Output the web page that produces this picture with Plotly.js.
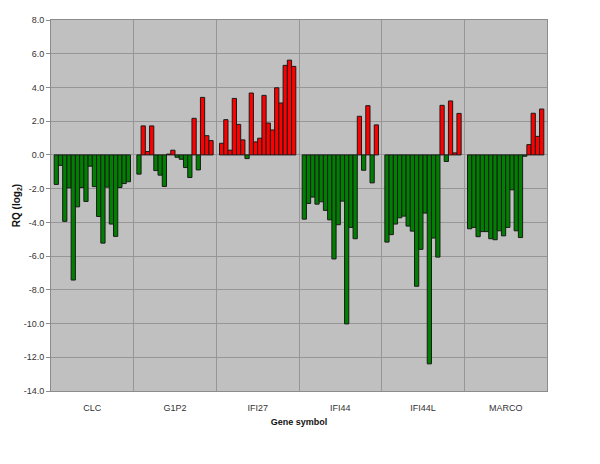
<!DOCTYPE html>
<html>
<head>
<meta charset="utf-8">
<script src="https://cdn.plot.ly/plotly-3.0.1.min.js"></script>
<style>
  body { margin: 0; background: #fff; }
  #chart { width: 600px; height: 464px; }
</style>
</head>
<body>
<div id="chart"></div>
<script>
// genes on the x axis, 18 samples per gene
const genes = ['CLC', 'G1P2', 'IFI27', 'IFI44', 'IFI44L', 'MARCO'];

const clc    = [-1.75, -0.62, -3.94, -1.95, -7.42, -3.08, -1.93, -2.76, -0.67, -1.88, -3.65, -5.23, -1.91, -4.10, -4.83, -1.93, -1.70, -1.59];
const g1p2   = [-1.14, 1.72, 0.20, 1.72, -0.93, -1.20, -1.87, 0.05, 0.28, -0.14, -0.26, -0.75, -1.34, 2.17, -0.89, 3.41, 1.14, 0.85];
const ifi27  = [0.69, 2.09, 0.28, 3.35, 1.81, 0.89, -0.22, 3.67, 0.77, 0.99, 3.53, 1.89, 1.48, 3.98, 3.08, 5.31, 5.62, 5.25];
const ifi44  = [-3.81, -2.88, -2.50, -2.92, -2.78, -3.29, -3.85, -6.17, -4.14, -2.74, -10.02, -4.30, -4.97, 2.29, -0.91, 2.92, -1.66, 1.78];
const ifi44l = [-5.17, -4.73, -4.10, -3.73, -3.63, -4.22, -4.52, -7.79, -5.60, -3.45, -12.39, -4.93, -6.06, 2.94, -0.39, 3.20, 0.12, 2.46];
const marco  = [-4.38, -4.30, -4.85, -4.55, -4.55, -4.97, -5.03, -4.50, -4.80, -4.30, -2.07, -4.50, -4.90, -0.08, 0.61, 2.47, 1.10, 2.72];

const yTicks = [8, 6, 4, 2, 0, -2, -4, -6, -8, -10, -12, -14];

const byGene = [clc, g1p2, ifi27, ifi44, ifi44l, marco];
const font = 'Liberation Sans, Arial, sans-serif';

// one trace per sample, grouped under each gene
const traces = clc.map((_, i) => {
    const vals = byGene.map(g => g[i]);
    return {
        type: 'bar',
        x: genes,
        y: vals,
        name: 'Sample ' + (i + 1),
        marker: {
            color: vals.map(v => v < 0 ? '#008000' : '#ff0000'),
            line: {color: '#1a1a1a', width: 1}
        },
        hoverinfo: 'x+y'
    };
});

Plotly.newPlot('chart', traces, {
    width: 600,
    height: 464,
    margin: {l: 51, r: 53, t: 20, b: 73},
    paper_bgcolor: '#ffffff',
    plot_bgcolor: '#c0c0c0',
    barmode: 'group',
    bargap: 0.077,
    bargroupgap: 0,
    showlegend: false,
    font: {family: font, size: 9, color: '#333'},
    xaxis: {
        type: 'category',
        tickson: 'boundaries',
        showgrid: true,
        gridcolor: '#969696',
        gridwidth: 1,
        showline: true,
        linecolor: '#8c8c8c',
        mirror: true,
        ticks: '',
        ticklabelstandoff: 8,
        tickfont: {family: font, size: 9, color: '#333'},
        title: {text: '<b>Gene symbol</b>', font: {family: font, size: 9, color: '#111'}, standoff: 6}
    },
    yaxis: {
        range: [-14, 8],
        tickvals: yTicks,
        ticktext: yTicks.map(v => v.toFixed(1)),
        showgrid: true,
        gridcolor: '#969696',
        zeroline: false,
        showline: true,
        linecolor: '#8c8c8c',
        mirror: true,
        ticks: 'outside',
        ticklen: 4,
        tickcolor: '#8c8c8c',
        tickfont: {family: font, size: 9, color: '#333'},
        title: {text: '<b>RQ (log<sub>2</sub>)</b>', font: {family: font, size: 10, color: '#111'}, standoff: 1}
    }
}, {displayModeBar: false, staticPlot: true});
</script>
</body>
</html>
